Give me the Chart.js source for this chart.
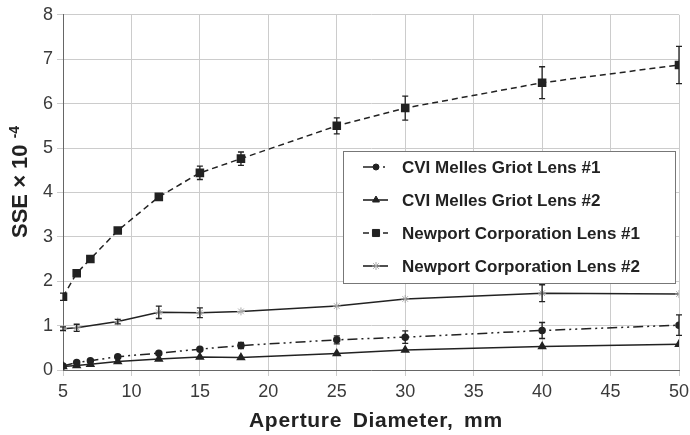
<!DOCTYPE html>
<html>
<head>
<meta charset="utf-8">
<script src="https://cdn.jsdelivr.net/npm/chart.js@4.4.1/dist/chart.umd.min.js"></script>
<style>
  html, body { margin: 0; padding: 0; background: #fff; }
  #wrap { width: 690px; height: 435px; }
</style>
</head>
<body>
<div id="wrap"><canvas id="c" width="690" height="435"></canvas></div>
<script>
// aperture diameters, mm
const aperture = [5, 6, 7, 9, 12, 15, 18, 25, 30, 40, 50];
const aperture2 = [5, 6, 9, 12, 15, 18, 25, 30, 40, 50];

// SSE x 10^-4 values
const cvi1 = [0.09, 0.17, 0.21, 0.30, 0.38, 0.47, 0.55, 0.68, 0.74, 0.89, 1.01];
const cvi1Err = [0.02, 0.03, 0.03, 0.03, 0.03, 0.03, 0.07, 0.09, 0.14, 0.18, 0.23];
const cvi2 = [0.08, 0.10, 0.13, 0.19, 0.25, 0.29, 0.28, 0.37, 0.45, 0.53, 0.58];
const cvi2Err = [0, 0, 0, 0, 0, 0, 0, 0, 0, 0, 0];
const newport1 = [1.65, 2.18, 2.50, 3.14, 3.90, 4.44, 4.76, 5.50, 5.90, 6.47, 6.87];
const newport1Err = [0.08, 0.05, 0.04, 0.04, 0.05, 0.15, 0.15, 0.18, 0.27, 0.36, 0.42];
const newport2 = [0.93, 0.95, 1.09, 1.30, 1.29, 1.32, 1.44, 1.60, 1.73, 1.71];
const newport2Err = [0.04, 0.08, 0.05, 0.14, 0.11, 0.03, 0.03, 0.02, 0.19, 0.02];

const labels = ["CVI Melles Griot Lens #1", "CVI Melles Griot Lens #2",
                "Newport Corporation Lens #1", "Newport Corporation Lens #2"];

const FONT = "'Liberation Sans', Arial, sans-serif";

function pts(xs, ys, es) {
  return xs.map((x, i) => ({ x: x, y: ys[i], e: es[i] }));
}

// draws the vertical error bars
const errorBars = {
  id: "errorBars",
  afterDatasetsDraw(chart) {
    const ctx = chart.ctx;
    const xs = chart.scales.x, ys = chart.scales.y;
    ctx.save();
    ctx.strokeStyle = "#222";
    ctx.lineWidth = 1.3;
    chart.data.datasets.forEach((ds) => {
      ds.data.forEach((p) => {
        if (!p.e || p.e < 0.04) return;
        const px = xs.getPixelForValue(p.x);
        const y1 = ys.getPixelForValue(p.y + p.e);
        const y2 = ys.getPixelForValue(p.y - p.e);
        ctx.beginPath();
        ctx.moveTo(px, y1); ctx.lineTo(px, y2);
        ctx.moveTo(px - 3, y1); ctx.lineTo(px + 3, y1);
        ctx.moveTo(px - 3, y2); ctx.lineTo(px + 3, y2);
        ctx.stroke();
      });
    });
    ctx.restore();
  }
};

// axis titles (y title has a superscript)
const axisTitles = {
  id: "axisTitles",
  afterDraw(chart) {
    const ctx = chart.ctx;
    ctx.save();
    ctx.fillStyle = "#222";
    // x title
    ctx.font = "bold 21px " + FONT;
    ctx.letterSpacing = "0.7px";
    ctx.wordSpacing = "4px";
    ctx.textBaseline = "alphabetic";
    ctx.textAlign = "left";
    ctx.fillText("Aperture Diameter, mm", 249, 427);
    // y title
    ctx.letterSpacing = "0px";
    ctx.wordSpacing = "0px";
    ctx.translate(27, 238);
    ctx.rotate(-Math.PI / 2);
    ctx.font = "bold 22px " + FONT;
    const main = "SSE × 10 ";
    ctx.fillText(main, 0, 0);
    const w = ctx.measureText(main).width;
    ctx.font = "bold 14px " + FONT;
    ctx.fillText("-4", w, -8);
    ctx.restore();
  }
};

// legend box inside the plot
const boxLegend = {
  id: "boxLegend",
  afterDraw(chart) {
    const ctx = chart.ctx;
    const x0 = 343, y0 = 151, w = 332, h = 132;
    ctx.save();
    ctx.fillStyle = "#fff";
    ctx.fillRect(x0, y0, w, h);
    ctx.strokeStyle = "#777";
    ctx.lineWidth = 1;
    ctx.strokeRect(x0 + 0.5, y0 + 0.5, w, h);
    chart.data.datasets.forEach((ds, i) => {
      const cy = y0 + 16 + i * 33;
      ctx.strokeStyle = ds.borderColor;
      ctx.lineWidth = 1.6;
      ctx.setLineDash(ds.borderDash || []);
      ctx.beginPath();
      ctx.moveTo(363, cy); ctx.lineTo(388, cy);
      ctx.stroke();
      ctx.setLineDash([]);
      ctx.fillStyle = ds.backgroundColor;
      ctx.strokeStyle = ds.pointBorderColor || ds.borderColor;
      ctx.lineWidth = 1;
      Chart.helpers.drawPoint(ctx, {
        pointStyle: ds.pointStyle, radius: ds.pointRadius, borderWidth: 1
      }, 376, cy);
      ctx.fillStyle = "#222";
      ctx.font = "bold 17px " + FONT;
      ctx.textBaseline = "middle";
      ctx.fillText(labels[i], 402, cy + 1);
    });
    ctx.restore();
  }
};

new Chart(document.getElementById("c"), {
  type: "line",
  data: {
    datasets: [
      {
        label: labels[0], data: pts(aperture, cvi1, cvi1Err),
        borderColor: "#222", backgroundColor: "#222", borderWidth: 1.5,
        borderDash: [10, 4, 2, 4, 2, 4], pointStyle: "circle", pointRadius: 3
      },
      {
        label: labels[1], data: pts(aperture, cvi2, cvi2Err),
        borderColor: "#222", backgroundColor: "#222", borderWidth: 1.5,
        pointStyle: "triangle", pointRadius: 4
      },
      {
        label: labels[2], data: pts(aperture, newport1, newport1Err),
        borderColor: "#222", backgroundColor: "#222", borderWidth: 1.5,
        borderDash: [6, 4], pointStyle: "rect", pointRadius: 5
      },
      {
        label: labels[3], data: pts(aperture2, newport2, newport2Err),
        borderColor: "#222", backgroundColor: "#aaa", borderWidth: 1.5,
        pointStyle: "star", pointRadius: 4, pointBorderColor: "#aaa", pointBorderWidth: 1
      }
    ]
  },
  options: {
    responsive: false,
    animation: false,
    layout: { padding: { top: 14, right: 11, left: 0, bottom: 0 } },
    plugins: { legend: { display: false }, tooltip: { enabled: false } },
    scales: {
      x: {
        type: "linear", min: 5, max: 50,
        ticks: { stepSize: 5, color: "#3a3a3a", font: { family: FONT, size: 18 }, padding: 5 },
        grid: { color: "#ccc", lineWidth: 1, tickLength: 6 },
        border: { color: "#666" },
        afterFit(s) { s.height = 65; s.paddingRight = 0; s.paddingLeft = 0; }
      },
      y: {
        min: 0, max: 8,
        ticks: { stepSize: 1, color: "#3a3a3a", font: { family: FONT, size: 18 }, padding: 4 },
        grid: { color: "#ccc", lineWidth: 1, tickLength: 6 },
        border: { color: "#666" },
        afterFit(s) { s.width = 63; }
      }
    }
  },
  plugins: [errorBars, axisTitles, boxLegend]
});
</script>
</body>
</html>
